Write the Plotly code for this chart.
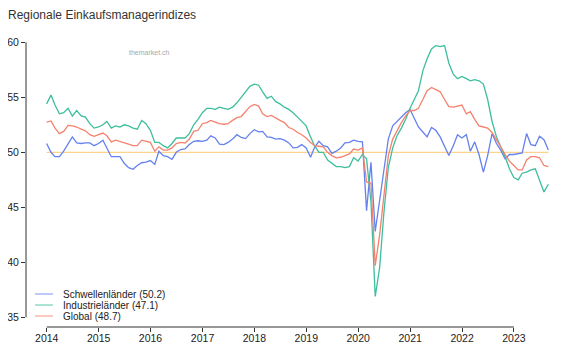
import pandas as pd
import plotly.graph_objects as go

# Monthly PMI values, month-end, Dec 2013 .. Aug 2023
schwellen = [
    50.8, 50.0, 49.6, 49.6, 50.1, 50.8, 51.4, 50.85, 50.8, 50.85, 50.85, 50.6,
    50.8, 51.1, 50.4, 49.6, 49.6, 49.6, 49.0, 48.6, 48.45, 48.8, 49.05, 49.1,
    49.25, 48.9, 50.1, 49.7, 49.6, 49.35, 50.0, 50.25, 50.3, 50.7, 51.0, 51.05,
    51.0, 51.1, 51.5, 51.3, 50.75, 50.7, 50.9, 51.2, 51.6, 51.35, 51.25, 51.7,
    52.05, 51.85, 51.9, 51.4, 51.35, 51.2, 51.25, 51.1, 50.85, 50.4, 50.45, 50.7,
    50.4, 49.55, 50.45, 51.0, 50.6, 50.5, 49.9, 50.1, 50.4, 50.85, 50.9, 51.1,
    51.0, 50.95, 44.7, 49.1, 42.8, 45.6, 48.3, 51.2, 52.4, 52.8, 53.2, 53.6,
    53.9, 53.05, 52.3, 51.85, 51.4, 52.25, 52.0, 51.4, 50.6, 49.7, 50.6, 51.6,
    51.3, 51.6, 50.1, 50.95, 49.8, 48.2, 49.7, 51.7, 50.8, 50.2, 49.4, 49.8,
    49.8, 49.9, 49.95, 51.7, 50.7, 50.6, 51.45, 51.15, 50.2,
]
industrie = [
    54.4, 55.2, 54.3, 53.5, 53.6, 54.0, 53.3, 53.8, 53.3, 53.2, 52.6, 52.2,
    52.3, 52.5, 52.8, 52.2, 52.4, 52.3, 52.5, 52.4, 52.2, 52.1, 52.9, 52.6,
    52.0, 50.9, 50.9, 50.6, 50.4, 50.8, 51.3, 51.3, 51.3, 51.7, 52.5, 53.0,
    53.6, 54.0, 54.0, 53.9, 54.1, 54.0, 53.9, 54.1, 54.5, 55.0, 55.5, 56.0,
    56.2, 56.1, 55.5, 54.9, 55.1, 54.6, 54.4, 54.1, 53.9, 53.6, 53.2, 52.8,
    52.4, 51.4, 50.6, 50.0, 50.0, 49.3, 49.0, 48.7, 48.7, 48.6, 48.7, 49.5,
    49.2, 49.8, 49.4, 45.5, 36.9, 39.5, 44.5, 48.6, 50.4, 51.5, 52.2, 53.0,
    54.0, 54.9, 55.6, 57.4, 58.5, 59.4, 59.7, 59.6, 59.7, 58.1, 57.1, 56.7,
    56.9, 56.7, 56.5, 56.6, 56.5, 56.2, 54.8, 52.8, 51.4, 50.5, 49.6, 48.5,
    47.7, 47.5, 48.1, 48.2, 48.4, 48.5, 47.5, 46.4, 47.1,
]
global_pmi = [
    52.75, 52.85, 52.2, 51.7, 51.9, 52.45, 52.4, 52.3, 52.1, 51.95, 51.6, 51.45,
    51.6, 51.75, 51.5, 50.95, 51.1, 51.0, 50.9, 50.75, 50.6, 50.6, 51.1, 51.0,
    50.9, 50.1, 50.5, 50.2, 50.2, 50.4, 50.8, 50.9, 50.85, 51.2, 51.9, 52.0,
    52.6, 52.7, 52.9, 52.75, 52.6, 52.55, 52.6, 52.9, 53.15, 53.25, 53.7, 54.15,
    54.35, 54.2, 53.5, 53.25, 53.35, 53.1, 52.9, 52.7, 52.25, 52.1, 51.8, 51.6,
    51.3, 50.9, 50.6, 50.55, 50.5, 50.0, 49.7, 49.5, 49.55, 49.7, 49.85, 50.3,
    50.2, 50.4, 47.3, 47.2, 39.7, 42.5, 46.3, 49.7, 51.2, 52.0, 52.7, 53.3,
    53.8, 53.8, 54.0, 54.8, 55.6, 55.9, 55.7, 55.5, 54.8, 54.15, 54.1, 54.2,
    54.3, 53.5, 53.7, 53.0, 52.4, 52.3, 52.2, 51.8, 51.2, 50.5, 49.8, 49.2,
    48.8, 48.4, 48.4, 49.3, 49.6, 49.6, 49.5, 48.8, 48.7,
]

series_names = ["Schwellenländer", "Industrieländer", "Global"]
series_values = [schwellen, industrie, global_pmi]
series_colors = ["#6580EF", "#3DBE9D", "#F4826E"]

year_ticks = list(range(2014, 2024))
y_ticks = [35, 40, 45, 50, 55, 60]
ref_level = 50

dates = (pd.date_range("2014-01-01", periods=len(schwellen), freq="MS")
         - pd.Timedelta(days=1)).strftime("%Y-%m-%d").tolist()

FONT = "Liberation Sans, Arial, sans-serif"

# page has an 8px body margin: figure origin sits at (8, 8) of the window
OFF = 8
W, H = 561 - OFF, 358 - OFF
L, R = 26 - OFF, 0          # plot area left edge at page x=26
T, Bm = 30 - OFF, 358 - 327  # plot area from page y=30 to y=327
PW = W - L - R
PH = H - T - Bm

fig = go.Figure()

fig.add_trace(go.Scatter(
    x=[dates[0], dates[-1]], y=[ref_level, ref_level], mode="lines",
    line=dict(color="#FBD38D", width=1.3), hoverinfo="skip", showlegend=False))

for name, vals, col in zip(series_names, series_values, series_colors):
    fig.add_trace(go.Scatter(
        x=dates, y=vals, mode="lines", name=name,
        line=dict(color=col, width=1.3), showlegend=False))

# axis lines (R style, spanning only tick range)
shapes = [
    dict(type="line", xref="paper", yref="y", x0=0, x1=0,
         y0=y_ticks[0], y1=y_ticks[-1], line=dict(color="#333333", width=1)),
    dict(type="line", xref="x", yref="paper",
         x0=f"{year_ticks[0]}-01-01", x1=f"{year_ticks[-1]}-01-01",
         y0=0, y1=0, line=dict(color="#333333", width=1)),
]

# custom legend (page pixel positions)
legend_rows_px = [294, 305, 316]
def px_x(xp):
    return (xp - 26) / PW
def px_y(yp):
    return (327 - yp) / PH

annotations = []
for name, vals, col, ypx in zip(series_names, series_values, series_colors, legend_rows_px):
    yp = px_y(ypx)
    shapes.append(dict(type="line", xref="paper", yref="paper",
                       x0=px_x(35), x1=px_x(53), y0=yp, y1=yp,
                       line=dict(color=col, width=1.4), opacity=0.6))
    annotations.append(dict(
        xref="paper", yref="paper", x=px_x(61), y=yp,
        xanchor="left", yanchor="middle", showarrow=False,
        text=f"{name} ({vals[-1]:.1f})",
        font=dict(family=FONT, size=10, color="#222222")))

annotations.append(dict(
    xref="paper", yref="paper", x=px_x(149), y=px_y(53),
    xanchor="center", yanchor="middle", showarrow=False,
    text="themarket.ch", font=dict(family=FONT, size=7, color="#A8A8A8")))

fig.update_layout(
    width=W, height=H,
    margin=dict(l=L, r=R, t=T, b=Bm, pad=0),
    paper_bgcolor="white", plot_bgcolor="white",
    title=dict(text="Regionale Einkaufsmanagerindizes", x=0, xanchor="left",
               xref="container", y=1 - (15 - OFF) / H, yanchor="middle", yref="container",
               font=dict(family=FONT, size=12, color="#333333")),
    xaxis=dict(range=["2013-08-08", "2023-11-28"], showgrid=False, zeroline=False,
               showline=False, ticks="outside", ticklen=4, tickcolor="#333333",
               ticklabelstandoff=-3,
               tickvals=[f"{y}-01-01" for y in year_ticks],
               ticktext=[str(y) for y in year_ticks],
               tickfont=dict(family=FONT, size=10.5, color="#222222")),
    yaxis=dict(range=[34.118, 61.118], showgrid=False, zeroline=False,
               showline=False, ticks="outside", ticklen=4, tickcolor="#333333",
               tickvals=y_ticks, ticktext=[str(v) for v in y_ticks],
               tickfont=dict(family=FONT, size=10.5, color="#222222")),
    shapes=shapes, annotations=annotations, showlegend=False,
)

fig.write_html("out.html")
